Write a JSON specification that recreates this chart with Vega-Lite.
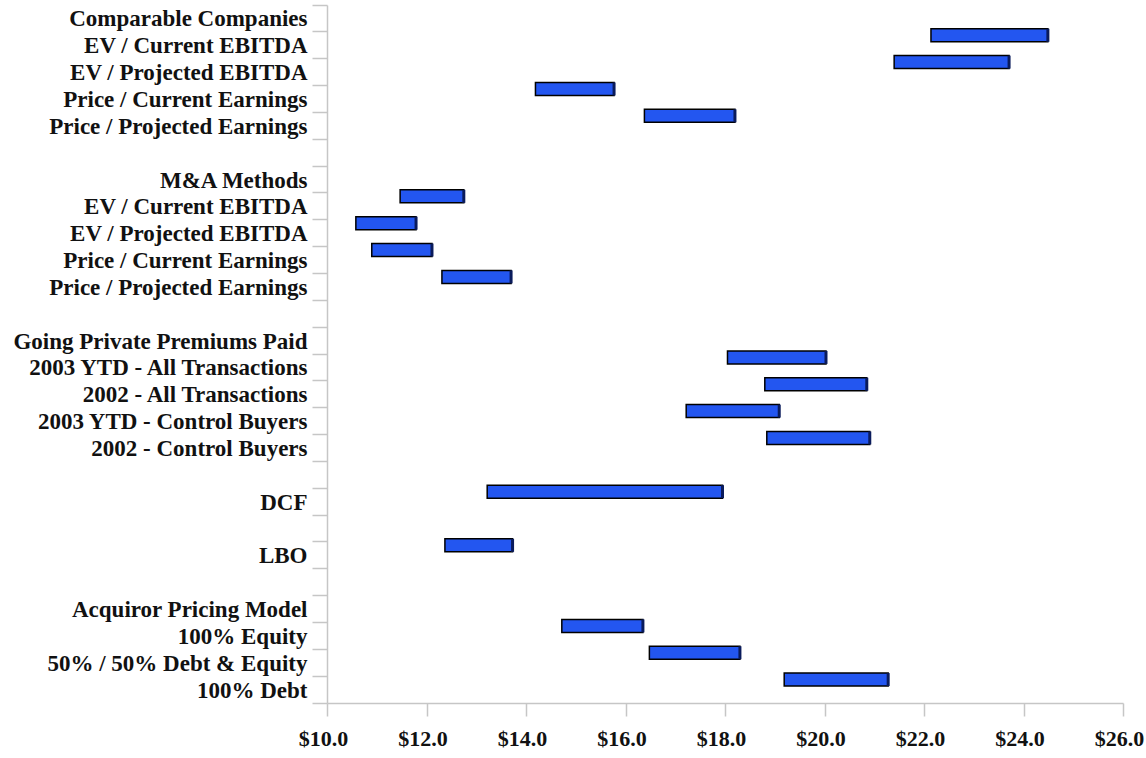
{
  "$schema": "https://vega.github.io/schema/vega-lite/v6.json",
  "width": 796,
  "height": 698,
  "autosize": {"type": "none"},
  "padding": {"left": 327, "top": 5, "right": 23, "bottom": 55},
  "background": "white",
  "config": {"view": {"stroke": null}, "font": "Liberation Serif"},
  "data": {
    "values": [
      {"row": "EV / Current EBITDA#cc", "low": 22.14, "high": 24.49},
      {"row": "EV / Projected EBITDA\u2005#cc", "low": 21.40, "high": 23.71},
      {"row": "Price / Current Earnings#cc", "low": 14.19, "high": 15.77},
      {"row": "Price / Projected Earnings#cc", "low": 16.38, "high": 18.20},
      {"row": "EV / Current EBITDA#ma", "low": 11.47, "high": 12.75},
      {"row": "EV / Projected EBITDA\u2005#ma", "low": 10.58, "high": 11.79},
      {"row": "Price / Current Earnings#ma", "low": 10.90, "high": 12.11},
      {"row": "Price / Projected Earnings#ma", "low": 12.31, "high": 13.70},
      {"row": "2003 YTD - All Transactions\u2005#gp", "low": 18.05, "high": 20.03},
      {"row": "2002 - All Transactions#gp", "low": 18.80, "high": 20.85},
      {"row": "2003 YTD - Control Buyers\u2005#gp", "low": 17.22, "high": 19.09},
      {"row": "2002 - Control Buyers#gp", "low": 18.84, "high": 20.91},
      {"row": "DCF#d", "low": 13.22, "high": 17.95},
      {"row": "LBO#l", "low": 12.37, "high": 13.73},
      {"row": "100% Equity#a", "low": 14.72, "high": 16.35},
      {"row": "50% / 50% Debt & Equity\u2005#a", "low": 16.48, "high": 18.30},
      {"row": "100% Debt#a", "low": 19.19, "high": 21.28}
    ]
  },
  "encoding": {
    "y": {
      "field": "row",
      "type": "nominal",
      "sort": null,
      "scale": {
        "domain": [
          "Comparable Companies#h1",
          "EV / Current EBITDA#cc",
          "EV / Projected EBITDA\u2005#cc",
          "Price / Current Earnings#cc",
          "Price / Projected Earnings#cc",
          "#b1",
          "M&A Methods#h2",
          "EV / Current EBITDA#ma",
          "EV / Projected EBITDA\u2005#ma",
          "Price / Current Earnings#ma",
          "Price / Projected Earnings#ma",
          "#b2",
          "Going Private Premiums Paid#h3",
          "2003 YTD - All Transactions\u2005#gp",
          "2002 - All Transactions#gp",
          "2003 YTD - Control Buyers\u2005#gp",
          "2002 - Control Buyers#gp",
          "#b3",
          "DCF#d",
          "#b4",
          "LBO#l",
          "#b5",
          "Acquiror Pricing Model#h4",
          "100% Equity#a",
          "50% / 50% Debt & Equity\u2005#a",
          "100% Debt#a"
        ],
        "paddingInner": 0,
        "paddingOuter": 0
      },
      "axis": {
        "title": null,
        "labelExpr": "datum.extra || !datum.value ? '' : split(datum.value, '#')[0]",
        "bandPosition": 1,
        "tickExtra": true,
        "tickSize": 15,
        "tickColor": "#c6c6c6",
        "tickWidth": 1.5,
        "domainColor": "#c6c6c6",
        "domainWidth": 1.5,
        "labelFont": "Liberation Serif",
        "labelFontWeight": "bold",
        "labelFontSize": 23,
        "labelColor": "#111111",
        "labelPadding": 5,
        "labelOffset": 1,
        "labelLimit": 0
      }
    }
  },
  "layer": [
    {
      "mark": {"type": "bar", "height": 13, "yOffset": -10, "fill": "#2356F0", "stroke": "#000000", "strokeWidth": 1.5},
      "encoding": {
        "x": {
          "field": "low",
          "type": "quantitative",
          "scale": {"domain": [10, 26], "nice": false, "zero": false},
          "axis": {
            "title": null,
            "values": [10, 12, 14, 16, 18, 20, 22, 24, 26],
            "format": "$.1f",
            "grid": false,
            "tickSize": 13,
            "tickColor": "#c6c6c6",
            "tickWidth": 1.5,
            "domainColor": "#c6c6c6",
            "domainWidth": 1.5,
            "labelFont": "Liberation Serif",
            "labelFontWeight": "bold",
            "labelFontSize": 22,
            "labelColor": "#111111",
            "labelPadding": 12,
            "labelOffset": -4,
            "labelFlush": false
          }
        },
        "x2": {"field": "high"}
      }
    },
    {
      "mark": {"type": "tick", "yOffset": -10, "size": 13, "thickness": 3, "color": "#0a1b5c", "opacity": 1},
      "encoding": {
        "x": {"field": "high", "type": "quantitative"}
      }
    }
  ]
}
